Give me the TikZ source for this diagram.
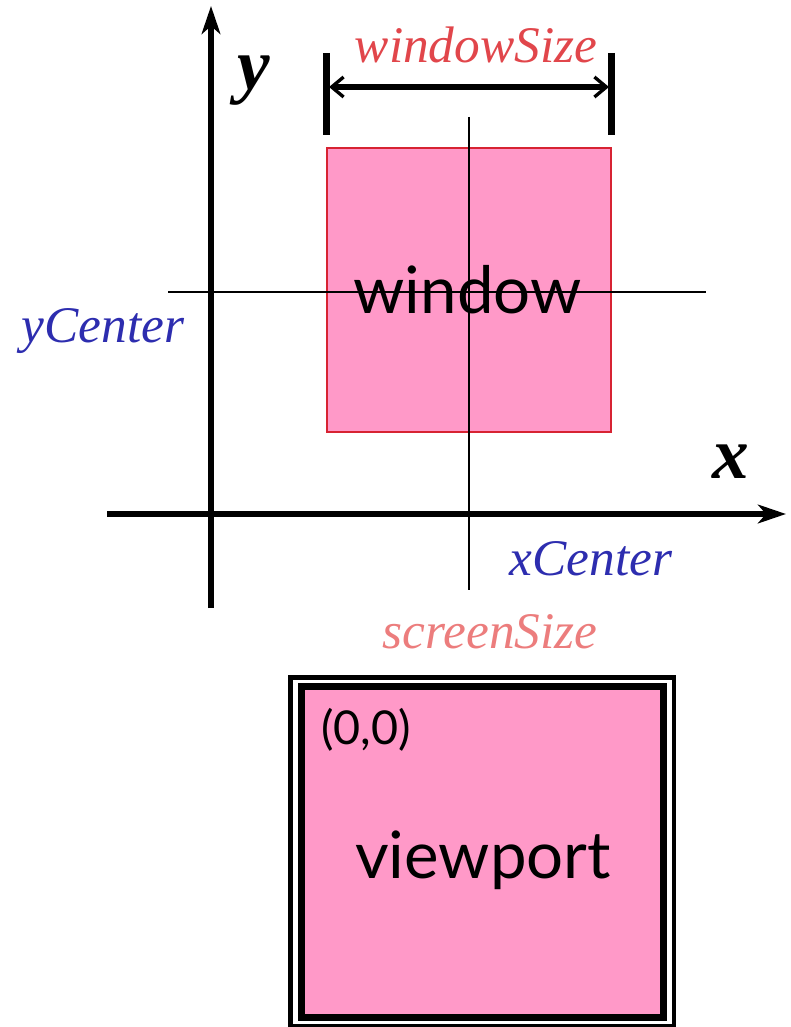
\documentclass[tikz,border=0pt]{standalone}
\usepackage{fontspec}
\setmainfont{Liberation Serif}
\newfontfamily\humanist{Lato}
\usetikzlibrary{arrows.meta}

\definecolor{boxpink}{RGB}{255,153,200}
\definecolor{edgered}{RGB}{215,35,50}
\definecolor{sizered}{RGB}{225,70,75}
\definecolor{screenred}{RGB}{236,125,125}
\definecolor{centerblue}{RGB}{45,45,175}

\begin{document}
\begin{tikzpicture}[x=0.75pt,y=-0.75pt,
  axis/.style={line width=4pt,-{Stealth[length=21pt,width=14pt,inset=6pt]}},
  guide/.style={line width=0.9pt},
  bar/.style={line width=5pt},
  span/.style={line width=5.2pt,{Straight Barb[length=9pt,width=15pt,line width=2.5pt]}-{Straight Barb[length=9pt,width=15pt,line width=2.5pt]}},
  italbl/.style={font=\fontsize{38.5}{40}\selectfont\itshape,inner sep=0,anchor=base},
  axislbl/.style={font=\fontsize{55}{57}\selectfont\bfseries\itshape,inner sep=0},
  boxlbl/.style={font=\humanist\fontsize{49}{52}\selectfont,inner sep=0,anchor=base},
]
\useasboundingbox (0,0) rectangle (790,1027);

% world window
\node[draw=edgered,line width=1.2pt,fill=boxpink,minimum width=213pt,minimum height=213pt,inner sep=0]
  (winbox) at (469,290) {};
\node[boxlbl] (wintext) at (467.5,313) {window};

% centre guides through the window
\coordinate (vtop) at (469,117);
\coordinate (vbot) at (469,590);
\coordinate (hleft) at (168,292);
\coordinate (hright) at (706,292);
\draw[guide] (vtop) -- (vbot);
\draw[guide] (hleft) -- (hright);

% axes
\coordinate (ybot) at (211,608);
\coordinate (ytop) at (211,6);
\coordinate (xleft) at (107,514);
\coordinate (xright) at (786,514);
\draw[axis] (ybot) -- (ytop);
\draw[axis] (xleft) -- (xright);
\node[axislbl] (ylbl) at (254,81) {y};
\node[axislbl] (xlbl) at (731,462) {x};

% window size dimension
\coordinate (lbtop) at (326.5,53);
\coordinate (lbbot) at (326.5,135);
\coordinate (rbtop) at (611.5,53);
\coordinate (rbbot) at (611.5,135);
\draw[bar] (lbtop) -- (lbbot);
\draw[bar] (rbtop) -- (rbbot);
\coordinate (sl) at (329,87);
\coordinate (sr) at (609,87);
\draw[span] (sl) -- (sr);
\node[italbl,text=sizered] (wsize) at (476,63) {windowSize};

% centre labels
\node[italbl,text=centerblue] (yc) at (103,342) {yCenter};
\node[italbl,text=centerblue] (xc) at (591,575) {xCenter};

% viewport on screen
\node[italbl,text=screenred] (ssize) at (490,648) {screenSize};
\coordinate (oa) at (290.5,677.5);
\coordinate (ob) at (674,1026);
\draw[line width=3.6pt] (oa) rectangle (ob);
\node[draw=black,line width=5.25pt,fill=boxpink,minimum width=271.5pt,minimum height=248.25pt,inner sep=0]
  (vpbox) at (482.5,852) {};
\node[font=\humanist\fontsize{35}{38}\selectfont,inner sep=0] (origin) at (366,730) {(0,0)};
\node[boxlbl] (vptext) at (483,878) {viewport};
\end{tikzpicture}
\end{document}
